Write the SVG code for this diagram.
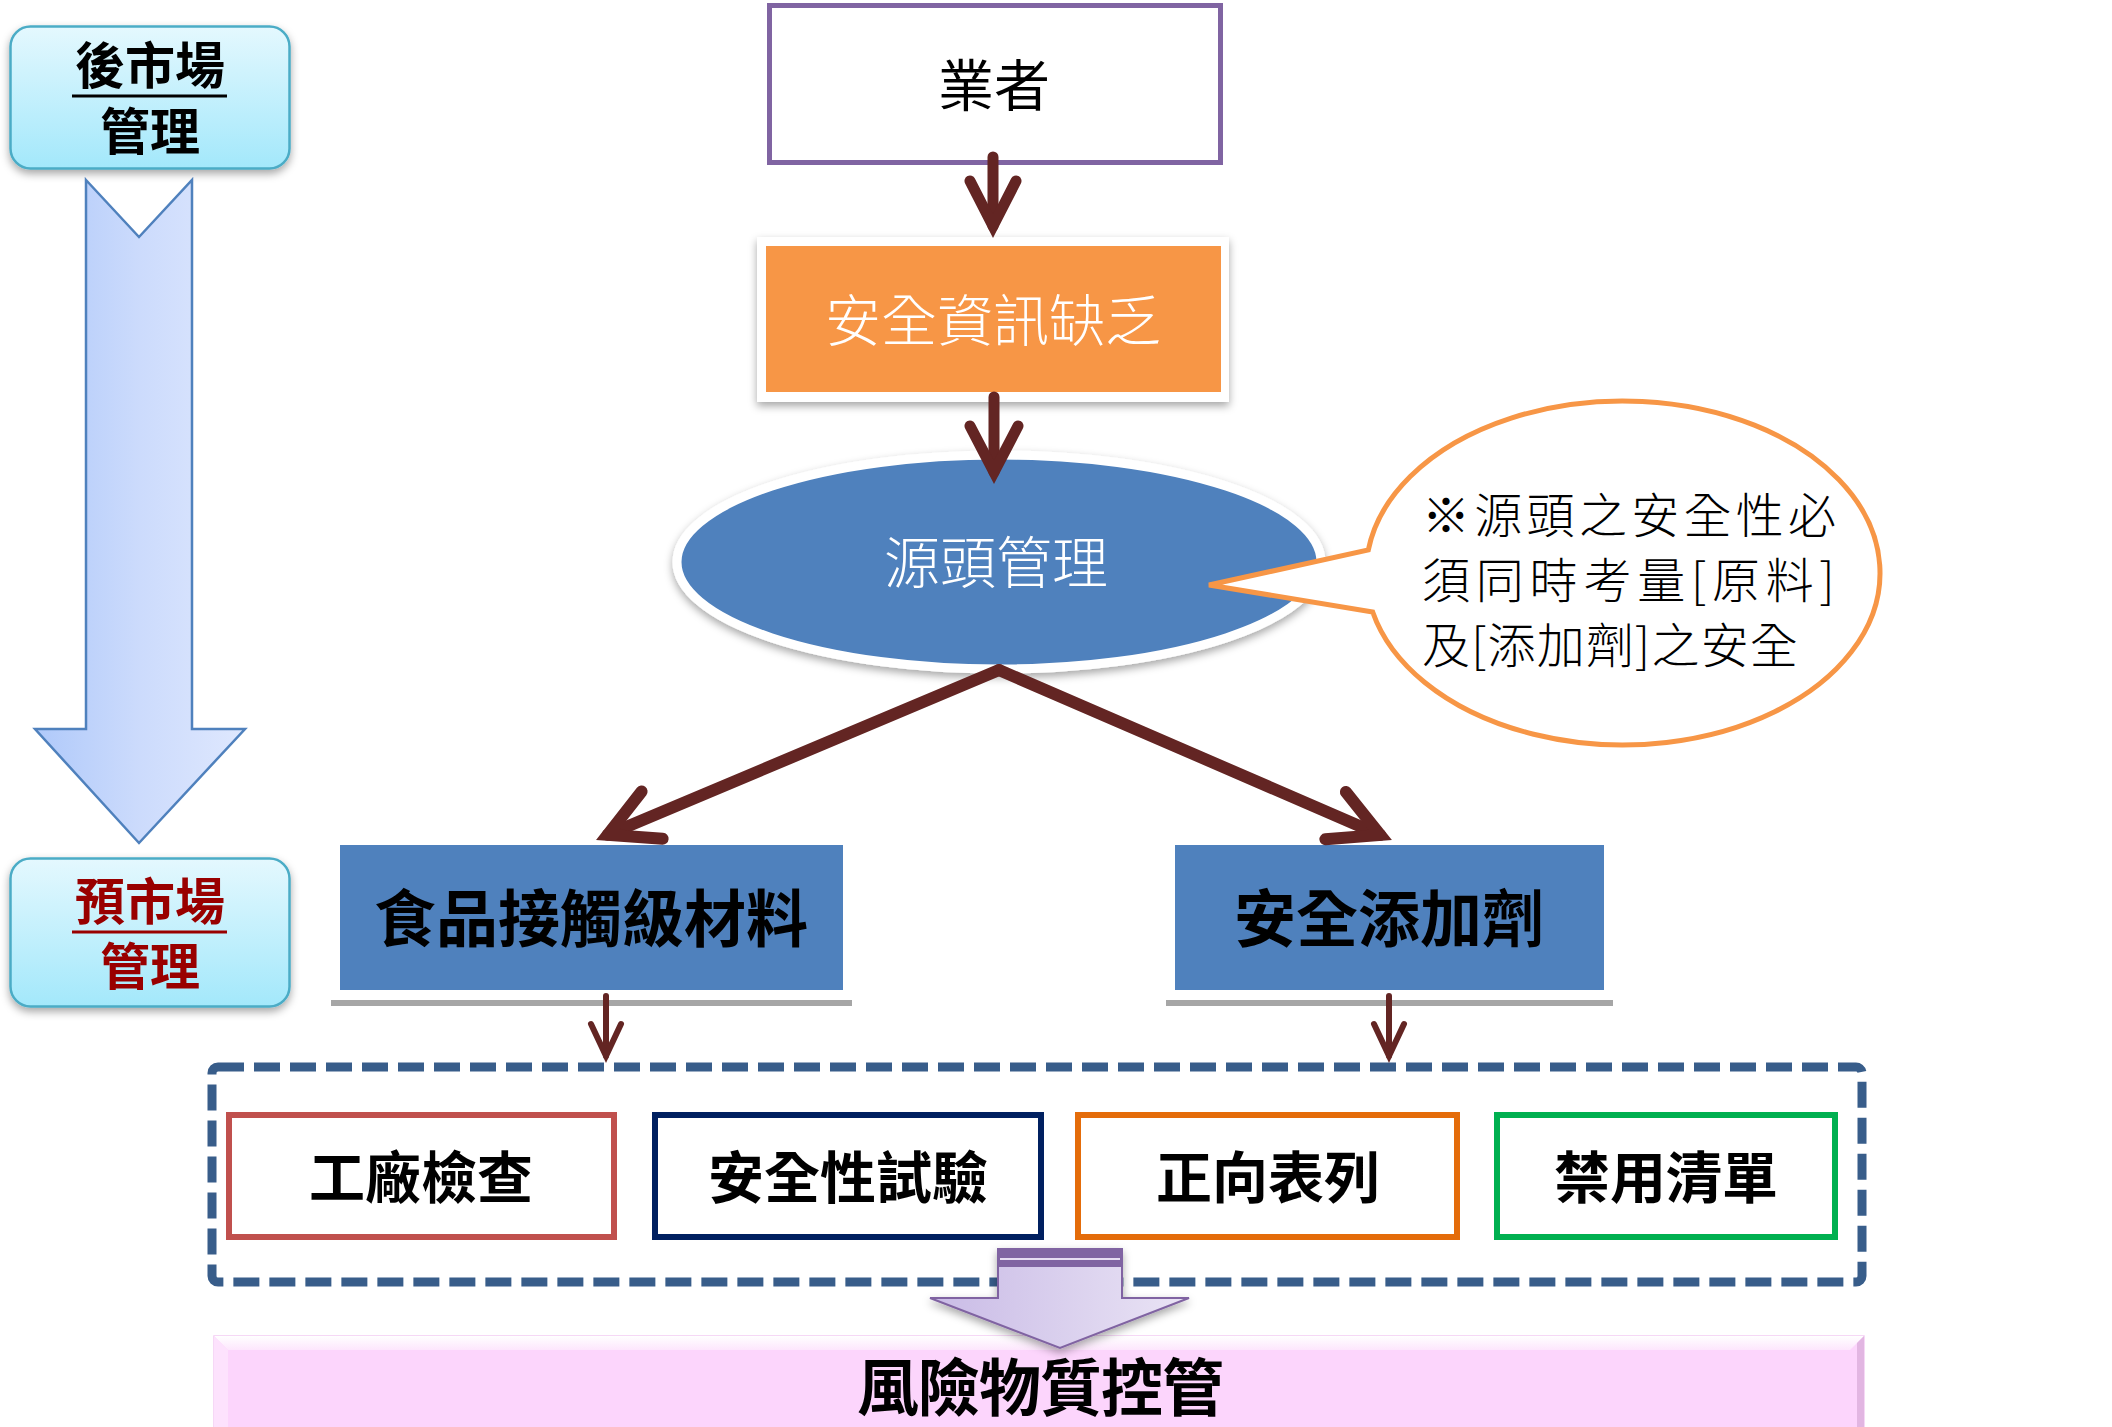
<svg xmlns="http://www.w3.org/2000/svg" width="2112" height="1427" viewBox="0 0 2112 1427">
<defs>
<style>
.cjk{font-family:"Noto Sans CJK TC","Noto Sans CJK SC",sans-serif}
.b{font-weight:700}
.mid{text-anchor:middle}
.conn{stroke:#632523;fill:none;stroke-linejoin:miter;stroke-linecap:round}
</style>
<linearGradient id="cyan" x1="0" y1="0" x2="0" y2="1">
<stop offset="0" stop-color="#E4F8FE"/><stop offset="1" stop-color="#A3E8FB"/>
</linearGradient>
<linearGradient id="blueArrow" x1="0" y1="0" x2="1" y2="0">
<stop offset="0" stop-color="#AFC9FA"/><stop offset="0.5" stop-color="#CCDBFC"/><stop offset="1" stop-color="#DFE8FE"/>
</linearGradient>
<linearGradient id="lav" x1="0" y1="0" x2="1" y2="0">
<stop offset="0" stop-color="#C9BBE6"/><stop offset="1" stop-color="#EAE4F5"/>
</linearGradient>
<linearGradient id="bevelTop" x1="0" y1="0" x2="0" y2="1">
<stop offset="0" stop-color="#FFFFFF"/><stop offset="1" stop-color="#FDE6FD"/>
</linearGradient>
<filter id="sh" x="-10%" y="-10%" width="120%" height="130%">
<feDropShadow dx="0" dy="4" stdDeviation="4" flood-color="#000" flood-opacity="0.35"/>
</filter>
</defs>
<rect width="2112" height="1427" fill="#FFFFFF"/>

<g id="post-market">
<rect x="10.5" y="26.5" width="279" height="142" rx="20" fill="url(#cyan)" stroke="#4BACC6" stroke-width="2.5" filter="url(#sh)"/>
<text class="cjk b mid" x="150" y="84" font-size="50" fill="#000">後市場</text>
<line x1="72" y1="96" x2="227" y2="96" stroke="#000" stroke-width="3"/>
<text class="cjk b mid" x="150" y="150" font-size="50" fill="#000">管理</text>
</g>

<g id="time-arrow">
<path d="M86 180 L139 237 L192 180 L192 729 L245 729 L139 843 L35 729 L86 729 Z" fill="url(#blueArrow)" stroke="#4F81BD" stroke-width="2.5" stroke-linejoin="miter"/>
</g>

<g id="pre-market">
<rect x="10.5" y="858.5" width="279" height="148" rx="20" fill="url(#cyan)" stroke="#4BACC6" stroke-width="2.5" filter="url(#sh)"/>
<text class="cjk b mid" x="150" y="920" font-size="50" fill="#990000">預市場</text>
<line x1="72" y1="932" x2="227" y2="932" stroke="#990000" stroke-width="3"/>
<text class="cjk b mid" x="150" y="985" font-size="50" fill="#990000">管理</text>
</g>

<g id="operator">
<rect x="769.5" y="5.5" width="451" height="157" fill="#FFFFFF" stroke="#8064A2" stroke-width="5"/>
<text class="cjk mid" x="994" y="106" font-size="56" fill="#000">業者</text>
</g>

<g id="info-lack">
<rect x="757" y="237" width="472" height="165" fill="#FFFFFF" filter="url(#sh)"/>
<rect x="766" y="246" width="455" height="146" fill="#F79646"/>
<text class="cjk mid" x="993" y="341" font-size="56" font-weight="300" fill="#FFFFFF">安全資訊缺乏</text>
</g>

<g id="source-mgmt">
<ellipse cx="999" cy="562" rx="322" ry="107" fill="#4F81BD" stroke="#FFFFFF" stroke-width="9" filter="url(#sh)"/>
<text class="cjk mid" x="996" y="583" font-size="56" font-weight="300" fill="#FFFFFF">源頭管理</text>
</g>

<g id="callout">
<path d="M1368.3 550 A257 172 0 1 1 1372.7 612 L1209 585 Z" fill="#FFFFFF" stroke="#F79646" stroke-width="5" stroke-linejoin="miter"/>
<text class="cjk" font-size="48" font-weight="300" fill="#000">
<tspan x="1422" y="533" letter-spacing="4.3">※源頭之安全性必</tspan>
<tspan x="1422" y="598" letter-spacing="5.8">須同時考量[原料]</tspan>
<tspan x="1422" y="663" letter-spacing="1.2">及[添加劑]之安全</tspan>
</text>
</g>

<g id="food-contact">
<rect x="340" y="845" width="503" height="145" fill="#4F81BD"/>
<line x1="331" y1="1003" x2="852" y2="1003" stroke="#A6A6A6" stroke-width="6"/>
<text class="cjk b mid" x="591" y="942" font-size="62" fill="#000">食品接觸級材料</text>
</g>

<g id="safe-additive">
<rect x="1175" y="845" width="429" height="145" fill="#4F81BD"/>
<line x1="1166" y1="1003" x2="1613" y2="1003" stroke="#A6A6A6" stroke-width="6"/>
<text class="cjk b mid" x="1389" y="942" font-size="62" fill="#000">安全添加劑</text>
</g>

<g id="measures">
<rect x="212" y="1067" width="1650" height="215" rx="6" fill="none" stroke="#385D8A" stroke-width="9" stroke-dasharray="26 10"/>
</g>

<g id="factory-inspection">
<rect x="229" y="1115" width="385" height="122" fill="#FFFFFF" stroke="#C0504D" stroke-width="6"/>
<text class="cjk b mid" x="421" y="1198" font-size="56" fill="#000">工廠檢查</text>
</g>
<g id="safety-test">
<rect x="655" y="1115" width="386" height="122" fill="#FFFFFF" stroke="#002060" stroke-width="6"/>
<text class="cjk b mid" x="848" y="1198" font-size="56" fill="#000">安全性試驗</text>
</g>
<g id="positive-list">
<rect x="1078" y="1115" width="379" height="122" fill="#FFFFFF" stroke="#E46C0A" stroke-width="6"/>
<text class="cjk b mid" x="1268" y="1198" font-size="56" fill="#000">正向表列</text>
</g>
<g id="ban-list">
<rect x="1497" y="1115" width="338" height="122" fill="#FFFFFF" stroke="#00B050" stroke-width="6"/>
<text class="cjk b mid" x="1666" y="1198" font-size="56" fill="#000">禁用清單</text>
</g>

<g id="risk-control">
<rect x="214" y="1336" width="1650" height="100" fill="#FCD5FC" stroke="#F4CCF4" stroke-width="1.5"/>
<polygon points="214,1336 1864,1336 1850,1350 228,1350" fill="url(#bevelTop)"/>
<polygon points="214,1336 228,1350 228,1427 214,1427" fill="#FDE2FD"/>
<polygon points="1864,1336 1864,1427 1857,1427 1857,1343" fill="#E2B6E2"/>
<text class="cjk b mid" x="1040" y="1411" font-size="62" letter-spacing="-1" fill="#000">風險物質控管</text>
</g>

<g id="result-arrow">
<path d="M998 1249 L1122 1249 L1122 1298 L1189 1298 L1060 1348 L930 1298 L998 1298 Z" fill="url(#lav)" stroke="#8064A2" stroke-width="2" stroke-linejoin="miter" filter="url(#sh)"/>
<rect x="998" y="1249" width="124" height="18" fill="#8064A2"/>
<line x1="1000" y1="1259" x2="1120" y2="1259" stroke="#E6DDF2" stroke-width="2"/>
</g>

<g id="connectors">
<line class="conn" x1="993" y1="157" x2="993" y2="226" stroke-width="11" stroke-linecap="butt"/>
<polyline class="conn" points="970,181 993,226 1016,181" stroke-width="11"/>
<line class="conn" x1="994" y1="397" x2="994" y2="472" stroke-width="11" stroke-linecap="butt"/>
<polyline class="conn" points="970,426 994,472 1018,426" stroke-width="11"/>
<line class="conn" x1="999" y1="670" x2="607.7" y2="834.8" stroke-width="12"/>
<polyline class="conn" points="641.6,791.5 607.7,834.8 662.6,838.7" stroke-width="12"/>
<line class="conn" x1="999" y1="670" x2="1380.2" y2="834.9" stroke-width="12"/>
<polyline class="conn" points="1345.9,791.9 1380.2,834.9 1325.4,839.3" stroke-width="12"/>
<line class="conn" x1="606" y1="996" x2="606" y2="1056" stroke-width="6" stroke-linecap="butt"/>
<polyline class="conn" points="591,1024 606,1056 621,1024" stroke-width="6"/>
<line class="conn" x1="1389" y1="996" x2="1389" y2="1056" stroke-width="6" stroke-linecap="butt"/>
<polyline class="conn" points="1374,1024 1389,1056 1404,1024" stroke-width="6"/>
</g>
</svg>
